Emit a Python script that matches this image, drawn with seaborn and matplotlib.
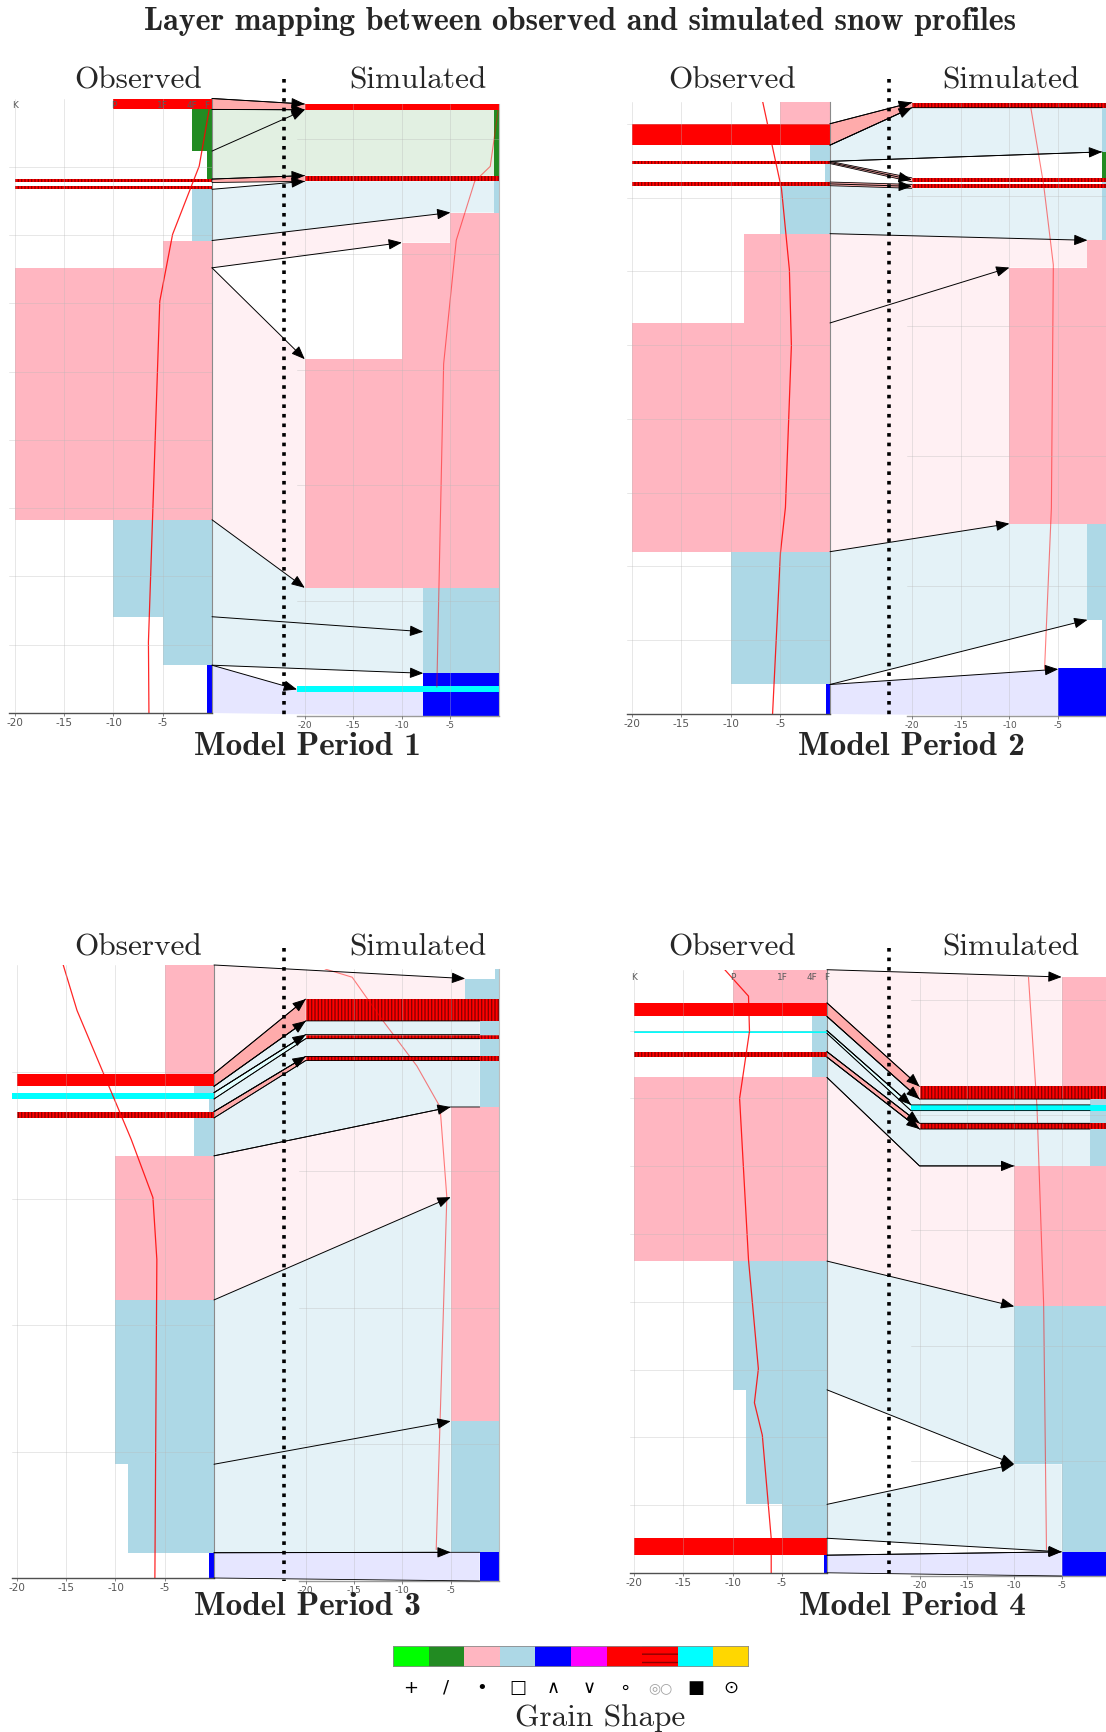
import numpy as np
import pandas as pd
import matplotlib
matplotlib.use("Agg")
import matplotlib.pyplot as plt
import seaborn as sns
from matplotlib.colors import ListedColormap, to_rgb
from matplotlib.patches import Polygon, Rectangle, FancyArrowPatch
from matplotlib.path import Path

# ---------------------------------------------------------------- grain classes
grain_codes = ["PP", "DF", "RG", "FC", "DH", "SH", "MF", "MFcr", "IF", "FCxr"]
grain_colors = ["#00FF00", "#228B22", "#FFB6C1", "#ADD8E6", "#0000FF",
                "#FF00FF", "#FF0000", "#FF0000", "#00FFFF", "#FFD700"]
grain_symbols = ["+", "/", "•", "□", "∧", "∨", "∘", "◎○", "■", "⊙"]
hardness_names = ["K", "P", "1F", "4F", "F"]
hardness_values = [-20, -10, -5, -2, -0.5]
temp_ticks = [-20, -15, -10, -5]

# ---------------------------------------------------------------- period 1
p1_obs_top = [90.0, 88.4, 82.3, 78.2, 77.2, 76.7, 69.2, 65.2, 28.3, 14.1, 7.0]
p1_obs_bot = [88.4, 82.3, 78.2, 77.7, 76.7, 69.2, 65.2, 28.3, 14.1, 7.0, 0.0]
p1_obs_hard = [-10, -2, -0.5, -20, -20, -2, -5, -20, -10, -5, -0.5]
p1_obs_grain = ["MF", "DF", "DF", "MFcr", "MFcr", "FC", "RG", "RG", "FC", "FC", "DH"]
p1_obs_temp_h = [89.1, 80.1, 70.1, 60.3, 10.4, 0.0]
p1_obs_temp = [-0.2, -1.3, -4.0, -5.3, -6.45, -6.4]

p1_sim_top = [53.0, 52.5, 46.8, 46.3, 43.6, 41.0, 30.9, 11.1, 3.7, 2.6, 2.1]
p1_sim_bot = [52.5, 46.8, 46.3, 43.6, 41.0, 30.9, 11.1, 3.7, 2.6, 2.1, 0.0]
p1_sim_hard = [-20, -0.5, -20, -0.5, -5, -10, -20, -7.8, -7.8, -20.8, -7.8]
p1_sim_grain = ["MF", "DF", "MFcr", "FC", "RG", "RG", "RG", "FC", "DH", "IF", "DH"]
p1_sim_temp_h = [53.0, 47.6, 46.3, 41.2, 30.5, 2.5]
p1_sim_temp = [0.0, -0.9, -2.5, -4.4, -5.7, -6.4]

p1_link_obs_top = [90.0, 88.4, 78.2, 76.7, 69.2, 65.2, 28.3, 14.1, 7.0]
p1_link_obs_bot = [88.4, 78.2, 77.7, 69.2, 65.2, 28.3, 14.1, 7.0, 0.0]
p1_link_sim_top = [53.0, 52.5, 46.8, 46.3, 43.6, 30.9, 11.1, 7.3, 2.3]
p1_link_sim_bot = [52.5, 46.8, 46.3, 43.6, 41.0, 11.1, 7.3, 3.7, 0.0]
p1_link_grain = ["MF", "DF", "MFcr", "FC", "RG", "RG", "FC", "FC", "DH"]
p1_arrow_obs = [90.0, 88.4, 82.3, 78.2, 76.7, 69.2, 65.2, 65.2, 28.3, 14.1, 7.0, 7.0]
p1_arrow_sim = [53.0, 52.5, 52.5, 46.8, 46.3, 43.6, 41.0, 30.9, 11.1, 7.3, 3.7, 2.3]

# ---------------------------------------------------------------- period 2
p2_obs_top = [83.0, 80.0, 77.1, 74.9, 74.6, 72.1, 71.6, 65.1, 53.0, 22.0, 4.0]
p2_obs_bot = [80.0, 77.1, 74.9, 74.6, 72.1, 71.6, 65.1, 53.0, 22.0, 4.0, 0.0]
p2_obs_hard = [-5, -20, -2, -20, -0.5, -20, -5, -8.7, -20, -10, -0.4]
p2_obs_grain = ["RG", "MF", "FC", "MFcr", "FC", "MFcr", "FC", "RG", "RG", "FC", "DH"]
p2_obs_temp_h = [83.0, 71.2, 60.2, 49.9, 28.0, 21.9, 0.0]
p2_obs_temp = [-6.8, -4.9, -4.1, -3.9, -4.5, -5.0, -5.8]

p2_sim_top = [47.2, 46.8, 43.4, 41.4, 41.1, 40.9, 40.6, 36.6, 34.5, 14.8, 7.4, 3.7]
p2_sim_bot = [46.8, 43.4, 41.4, 41.1, 40.9, 40.6, 36.6, 34.5, 14.8, 7.4, 3.7, 0.0]
p2_sim_hard = [-20, -0.5, -0.5, -20, -0.5, -20, -0.5, -2, -10, -2, -0.5, -5]
p2_sim_grain = ["MFcr", "FC", "DF", "MFcr", "FC", "MFcr", "FC", "RG", "RG", "FC", "FC", "DH"]
p2_sim_temp_h = [47.2, 40.9, 34.7, 16.0, 3.6]
p2_sim_temp = [-7.9, -6.5, -5.5, -5.7, -6.4]

p2_link_obs_top = [80.0, 77.1, 74.9, 72.1, 71.6, 65.1, 53.0, 22.0, 4.0]
p2_link_obs_bot = [77.1, 74.9, 74.6, 71.6, 65.1, 53.0, 22.0, 4.0, 0.0]
p2_link_sim_top = [47.2, 46.8, 41.4, 40.9, 40.6, 36.6, 34.5, 14.8, 3.6]
p2_link_sim_bot = [46.8, 43.4, 41.1, 40.6, 36.6, 34.5, 14.8, 7.4, 0.0]
p2_link_grain = ["MF", "FC", "MFcr", "MFcr", "FC", "RG", "RG", "FC", "DH"]
p2_arrow_obs = [80.0, 77.1, 74.9, 74.75, 71.85, 65.1, 53.0, 22.0, 4.0, 4.0]
p2_arrow_sim = [47.2, 46.8, 43.4, 41.25, 40.75, 36.6, 34.5, 14.8, 7.4, 3.6]

# ---------------------------------------------------------------- period 3
p3_obs_top = [48.5, 39.9, 38.9, 38.4, 37.9, 36.9, 36.4, 33.4, 22.0, 9.0, 2.0]
p3_obs_bot = [39.9, 38.9, 38.4, 37.9, 36.9, 36.4, 33.4, 22.0, 9.0, 2.0, 0.0]
p3_obs_hard = [-5, -20, -2, -20.5, -0.5, -20, -2, -10, -10, -8.7, -0.5]
p3_obs_grain = ["RG", "MF", "FC", "IF", "FC", "MFcr", "FC", "RG", "FC", "FC", "DH"]
p3_obs_temp_h = [48.5, 44.9, 34.7, 30.1, 25.2, 0.0]
p3_obs_temp = [-15.3, -13.9, -8.4, -6.2, -5.8, -6.0]

p3_sim_top = [44.8, 44.1, 42.6, 41.0, 40.0, 39.7, 38.4, 38.1, 34.7, 11.7, 2.1]
p3_sim_bot = [44.1, 42.6, 41.0, 40.0, 39.7, 38.4, 38.1, 34.7, 11.7, 2.1, 0.0]
p3_sim_hard = [-0.4, -3.5, -20, -2, -20, -2, -20, -2, -5, -5, -2]
p3_sim_grain = ["FC", "FC", "MFcr", "FC", "MFcr", "FC", "MFcr", "FC", "RG", "FC", "DH"]
p3_sim_temp_h = [44.8, 44.2, 42.4, 41.0, 37.7, 34.7, 28.1, 2.3]
p3_sim_temp = [-18.0, -15.2, -13.4, -12.0, -8.5, -6.1, -5.4, -6.5]

p3_link_obs_top = [48.5, 39.9, 38.9, 38.4, 37.9, 36.9, 36.4, 33.4, 22.0, 9.0, 2.0]
p3_link_obs_bot = [39.9, 38.9, 38.4, 37.9, 36.9, 36.4, 33.4, 22.0, 9.0, 2.0, 0.0]
p3_link_sim_top = [44.1, 42.6, 41.0, 40.0, 39.7, 38.4, 38.1, 34.7, 28.1, 11.7, 2.1]
p3_link_sim_bot = [42.6, 41.0, 40.0, 39.7, 38.4, 38.1, 34.7, 28.1, 11.7, 2.1, 0.0]
p3_link_grain = ["RG", "MF", "FC", "IF", "FC", "MFcr", "FC", "RG", "FC", "FC", "DH"]
p3_arrow_obs = [48.5, 39.9, 38.9, 38.4, 36.9, 33.4, 22.0, 9.0, 2.0]
p3_arrow_sim = [44.1, 42.6, 41.0, 40.0, 38.4, 34.7, 28.1, 11.7, 2.1]

# ---------------------------------------------------------------- period 4
p4_obs_top = [89.0, 84.1, 82.1, 80.0, 79.6, 76.9, 76.1, 73.1, 46.0, 27.0, 10.1, 5.1, 2.6]
p4_obs_bot = [84.1, 82.1, 80.0, 79.6, 76.9, 76.1, 73.1, 46.0, 27.0, 10.1, 5.1, 2.6, 0.0]
p4_obs_hard = [-10, -20, -2, -20, -2, -20, -2, -20, -10, -8.7, -5, -20, -0.8]
p4_obs_grain = ["RG", "MF", "FC", "IF", "FC", "MFcr", "FC", "RG", "FC", "FC", "FC", "MF", "DH"]
p4_obs_temp_h = [89.0, 85.1, 79.9, 70.0, 46.2, 30.1, 25.1, 20.3, 5.1, 0.0]
p4_obs_temp = [-10.8, -8.4, -8.3, -9.3, -8.4, -7.4, -7.8, -7.0, -6.1, -6.1]

p4_sim_top = [52.0, 42.5, 41.4, 40.9, 40.4, 39.3, 38.8, 35.6, 23.4, 9.7, 2.1]
p4_sim_bot = [42.5, 41.4, 40.9, 40.4, 39.3, 38.8, 35.6, 23.4, 9.7, 2.1, 0.0]
p4_sim_hard = [-5, -20, -2, -20.9, -2, -20, -2, -10, -10, -5, -5]
p4_sim_grain = ["RG", "MFcr", "FC", "IF", "FC", "MFcr", "FC", "RG", "FC", "FC", "DH"]
p4_sim_temp_h = [52.0, 40.7, 23.6, 2.3]
p4_sim_temp = [-8.5, -7.6, -6.9, -6.6]

p4_link_obs_top = [89.0, 84.1, 82.1, 80.0, 79.6, 76.9, 76.1, 73.1, 46.0, 10.1, 2.6]
p4_link_obs_bot = [84.1, 82.1, 80.0, 79.6, 76.9, 76.1, 73.1, 46.0, 27.0, 5.1, 0.0]
p4_link_sim_top = [52.0, 42.5, 41.4, 40.9, 40.4, 39.3, 38.8, 35.6, 23.4, 9.7, 2.1]
p4_link_sim_bot = [42.5, 41.4, 40.9, 40.4, 39.3, 38.8, 35.6, 23.4, 9.7, 2.1, 0.0]
p4_link_grain = ["RG", "MF", "FC", "IF", "FC", "MFcr", "FC", "RG", "FC", "FC", "DH"]
p4_link_entry_top = [np.nan, np.nan, np.nan, np.nan, np.nan, np.nan, np.nan, -20, np.nan,
                     np.nan, np.nan]
p4_link_entry_bot = [np.nan, np.nan, np.nan, np.nan, np.nan, np.nan, -20, np.nan, np.nan,
                     np.nan, np.nan]
p4_arrow_obs = [89.0, 84.1, 82.1, 80.0, 76.9, 76.1, 73.1, 46.0, 27.0, 10.1, 5.1, 2.6]
p4_arrow_sim = [52.0, 42.5, 41.4, 40.9, 39.3, 38.8, 35.6, 23.4, 9.7, 9.7, 2.1, 2.1]
p4_arrow_via = [np.nan, np.nan, np.nan, np.nan, np.nan, np.nan, -20, np.nan, np.nan,
                np.nan, np.nan, np.nan]

# ---------------------------------------------------------------- styling
sns.set_theme(style="white")
plt.rcParams["font.family"] = ["DejaVu Sans"]
plt.rcParams["hatch.linewidth"] = 1.0

GRAIN_COLOR = dict(zip(grain_codes, grain_colors))
LINK_ALPHA = {"PP": 0.15, "DF": 0.13, "RG": 0.2, "FC": 0.33, "DH": 0.1, "SH": 0.15,
              "MF": 0.33, "MFcr": 0.33, "IF": 0.12, "FCxr": 0.2}
CRUST_DARK = "#8B0000"
SERIF = "cmr10"
SERIF_BOLD = "cmb10"
NARROW = ["Liberation Sans Narrow", "DejaVu Sans"]

W_PX, H_PX, DPI = 1106, 1733, 100
fig = plt.figure(figsize=(W_PX / DPI, H_PX / DPI), dpi=DPI)
fig.patch.set_facecolor("white")


def px_rect(x0, y0, x1, y1):
    return [x0 / W_PX, 1 - y1 / H_PX, (x1 - x0) / W_PX, (y1 - y0) / H_PX]


def fx(x):
    return x / W_PX


def fy(y):
    return 1 - y / H_PX


def light(grain):
    a = LINK_ALPHA[grain]
    rgb = np.array(to_rgb(GRAIN_COLOR[grain]))
    return tuple(a * rgb + (1 - a) * np.ones(3))


# background layer for the connecting bands and foreground layer for arrows
under = fig.add_axes([0, 0, 1, 1], zorder=0)
under.set_xlim(0, 1)
under.set_ylim(0, 1)
under.axis("off")
over = fig.add_axes([0, 0, 1, 1], zorder=3)
over.set_xlim(0, 1)
over.set_ylim(0, 1)
over.axis("off")

layouts = {
    1: dict(obs=(9, 99.5, 212, 714), obs_xlim=(-20.6, 0), sim=(297, 105, 499, 717),
            sim_xlim=(-20.8, 0), dotted=(284, 80, 719), obs_title=(138, 81),
            sim_title=(418, 81), period=(307, 747), obs_ymax=90, sim_ymax=53, hlabels=True),
    2: dict(obs=(627, 102.6, 830, 715), obs_xlim=(-20.5, 0), sim=(907, 103.5, 1107, 717),
            sim_xlim=(-20.5, 0), dotted=(889, 80, 719), obs_title=(732, 81),
            sim_title=(1011, 81), period=(912, 747), obs_ymax=83, sim_ymax=47.2, hlabels=False),
    3: dict(obs=(12, 966, 214, 1579), obs_xlim=(-20.5, 0), sim=(299, 970, 499, 1582),
            sim_xlim=(-20.7, 0), dotted=(284, 949, 1582), obs_title=(138, 948),
            sim_title=(418, 948), period=(307, 1607), obs_ymax=48.5, sim_ymax=44.8, hlabels=False),
    4: dict(obs=(630, 970.7, 827, 1573.8), obs_xlim=(-20.4, -0.45), sim=(911, 978, 1109, 1577),
            sim_xlim=(-20.9, 0), dotted=(889, 949, 1580), obs_title=(732, 948),
            sim_title=(1011, 948), period=(912, 1607), obs_ymax=89, sim_ymax=52, hlabels=True),
}

g = globals()


def frame(prefix):
    return pd.DataFrame({"top": g[prefix + "_top"], "bot": g[prefix + "_bot"],
                         "hard": g[prefix + "_hard"], "grain": g[prefix + "_grain"]})


def profile_axes(rect, xlim, ymax, label_size, label_family, bottom_color):
    ax = fig.add_axes(px_rect(*rect), zorder=1)
    ax.set_facecolor("none")
    ax.set_xlim(*xlim)
    ax.set_ylim(0, ymax)
    ax.set_xticks(temp_ticks)
    ax.set_xticklabels([str(t) for t in temp_ticks], family=label_family)
    ax.set_yticks(np.arange(10, ymax, 10))
    ax.set_yticklabels([])
    ax.grid(True, color="#b8b8b8", alpha=0.4, lw=0.6)
    ax.set_axisbelow(False)
    ax.tick_params(axis="x", labelsize=label_size, colors="#555555", length=2, width=0.5,
                   pad=1.2, direction="out", bottom=True)
    ax.tick_params(axis="y", length=0)
    for s in ("left", "top"):
        ax.spines[s].set_visible(False)
    ax.spines["bottom"].set_color(bottom_color)
    ax.spines["bottom"].set_linewidth(1.0)
    ax.spines["right"].set_color("#8a8a8a")
    ax.spines["right"].set_linewidth(0.8)
    return ax


def draw_layers(ax, df):
    for r in df.itertuples():
        crust = r.grain == "MFcr"
        ax.barh(y=(r.top + r.bot) / 2, width=r.hard, left=0, height=r.top - r.bot,
                color=GRAIN_COLOR[r.grain], edgecolor=CRUST_DARK if crust else "none",
                linewidth=0, hatch="|||||" if crust else None, zorder=1)


def sim_x_at(sim, y, tol=0.05):
    """Left edge of the simulated profile at height y (widest layer touching y)."""
    sel = sim[(sim.bot - tol <= y) & (sim.top + tol >= y)]
    return sel.hard.min()


def sim_edge(sim, top, bot):
    """Stepped outline along the left edges of simulated layers between bot and top."""
    pts = [(sim_x_at(sim, top), top)]
    for r in sim.sort_values("top", ascending=False).itertuples():
        t, b = min(r.top, top), max(r.bot, bot)
        if t > b + 1e-9:
            pts += [(r.hard, t), (r.hard, b)]
    pts.append((sim_x_at(sim, bot), bot))
    return pts


def to_fig(ax, x, y):
    disp = ax.transData.transform([(x, y)])
    return fig.transFigure.inverted().transform(disp)[0]


for n, lay in layouts.items():
    obs = frame(f"p{n}_obs")
    sim = frame(f"p{n}_sim")

    ax_o = profile_axes(lay["obs"], lay["obs_xlim"], lay["obs_ymax"], 7.5, ["DejaVu Sans"],
                        "#505050")
    ax_s = profile_axes(lay["sim"], lay["sim_xlim"], lay["sim_ymax"], 6.5, NARROW, "#9a9a9a")
    ax_s.spines["right"].set_color("#bdbdbd")

    draw_layers(ax_o, obs)
    draw_layers(ax_s, sim)

    sns.lineplot(x=g[f"p{n}_obs_temp"], y=g[f"p{n}_obs_temp_h"], sort=False, estimator=None,
                 orient="y", color="red", lw=0.9, alpha=0.85, ax=ax_o, legend=False)
    sns.lineplot(x=g[f"p{n}_sim_temp"], y=g[f"p{n}_sim_temp_h"], sort=False, estimator=None,
                 orient="y", color="red", lw=0.8, alpha=0.5, ax=ax_s, legend=False)
    for ax, xl, ym in ((ax_o, lay["obs_xlim"], lay["obs_ymax"]),
                       (ax_s, lay["sim_xlim"], lay["sim_ymax"])):
        ax.set_xlim(*xl)
        ax.set_ylim(0, ym)
        ax.set_xlabel("")
        ax.set_ylabel("")

    if lay["hlabels"]:
        for name, hv in zip(hardness_names, hardness_values):
            ax_o.text(hv, lay["obs_ymax"] * 0.997, name, ha="center", va="top",
                      fontsize=6.5, color="#5a5a5a", zorder=6)

    # connecting bands between matched layers
    x_edge = ax_o.get_xlim()[1]
    n_links = len(g[f"p{n}_link_grain"])
    e_top = g.get(f"p{n}_link_entry_top", [np.nan] * n_links)
    e_bot = g.get(f"p{n}_link_entry_bot", [np.nan] * n_links)
    for otop, obot, stop, sbot, gr, et, eb in zip(
            g[f"p{n}_link_obs_top"], g[f"p{n}_link_obs_bot"], g[f"p{n}_link_sim_top"],
            g[f"p{n}_link_sim_bot"], g[f"p{n}_link_grain"], e_top, e_bot):
        start = to_fig(ax_o, x_edge, otop)
        end = to_fig(ax_o, x_edge, obot)
        side = []
        if not np.isnan(et):
            side.append(to_fig(ax_s, et, stop))
        side += [to_fig(ax_s, x, y) for x, y in sim_edge(sim, stop, sbot)]
        if not np.isnan(eb):
            side.append(to_fig(ax_s, eb, sbot))
        under.add_patch(Polygon([start] + side + [end], closed=True, facecolor=light(gr),
                                edgecolor="none", lw=0, transform=fig.transFigure))
        if (otop - obot) <= 3.05:
            # thin bands get a dark outline along their two long edges
            top_edge = np.array([start] + side[:2])
            bot_edge = np.array(side[-2:] + [end])
            for e in (top_edge, bot_edge):
                over.plot(e[:, 0], e[:, 1], color="black", lw=0.6, zorder=1)

    # arrows from observed boundaries to simulated boundaries
    a_via = g.get(f"p{n}_arrow_via", [np.nan] * len(g[f"p{n}_arrow_obs"]))
    for oy, sy, via in zip(g[f"p{n}_arrow_obs"], g[f"p{n}_arrow_sim"], a_via):
        pts = [to_fig(ax_o, x_edge, oy)]
        if not np.isnan(via):
            pts.append(to_fig(ax_s, via, sy))
        pts.append(to_fig(ax_s, sim_x_at(sim, sy), sy))
        arr = FancyArrowPatch(path=Path(pts), arrowstyle="-|>,head_length=0.55,head_width=0.22",
                              mutation_scale=15, lw=0.7, color="black",
                              transform=fig.transFigure, zorder=2)
        over.add_patch(arr)

    dx, dy0, dy1 = lay["dotted"]
    over.plot([fx(dx), fx(dx)], [fy(dy0), fy(dy1)], ls=":", color="black", lw=2.6, zorder=1.5)

    fig.text(fx(lay["obs_title"][0]), fy(lay["obs_title"][1]), "Observed", ha="center",
             va="center", fontsize=22.5, family=SERIF)
    fig.text(fx(lay["sim_title"][0]), fy(lay["sim_title"][1]), "Simulated", ha="center",
             va="center", fontsize=22.5, family=SERIF)
    fig.text(fx(lay["period"][0]), fy(lay["period"][1]), f"Model Period {n}", ha="center",
             va="center", fontsize=24, family=SERIF_BOLD)

fig.text(fx(580), fy(22), "Layer mapping between observed and simulated snow profiles",
         ha="center", va="center", fontsize=23, family=SERIF_BOLD)

# ---------------------------------------------------------------- grain legend
lax = fig.add_axes(px_rect(393, 1647, 749, 1668), zorder=2)
sns.heatmap(np.arange(len(grain_codes))[None, :], cmap=ListedColormap(grain_colors),
            cbar=False, xticklabels=False, yticklabels=False, ax=lax, linewidths=0)
crust_i = grain_codes.index("MFcr")
lax.add_patch(Rectangle((crust_i, 0), 1, 1, facecolor="none", edgecolor=CRUST_DARK,
                        hatch="--", lw=0))
lax.add_patch(Rectangle((0, 0), len(grain_codes), 1, facecolor="none",
                        edgecolor="#8c8c8c", lw=1.2))
for i, sym in enumerate(grain_symbols):
    crust = grain_codes[i] == "MFcr"
    lax.text(i + 0.5, 1.95, sym, ha="center", va="center", fontsize=10 if crust else 13,
             color="#a0a0a0" if crust else "black", family=["DejaVu Sans"])
fig.text(fx(600), fy(1718), "Grain Shape", ha="center", va="center", fontsize=22.5,
         family=SERIF)

fig.savefig("out.png", dpi=DPI, facecolor="white")
